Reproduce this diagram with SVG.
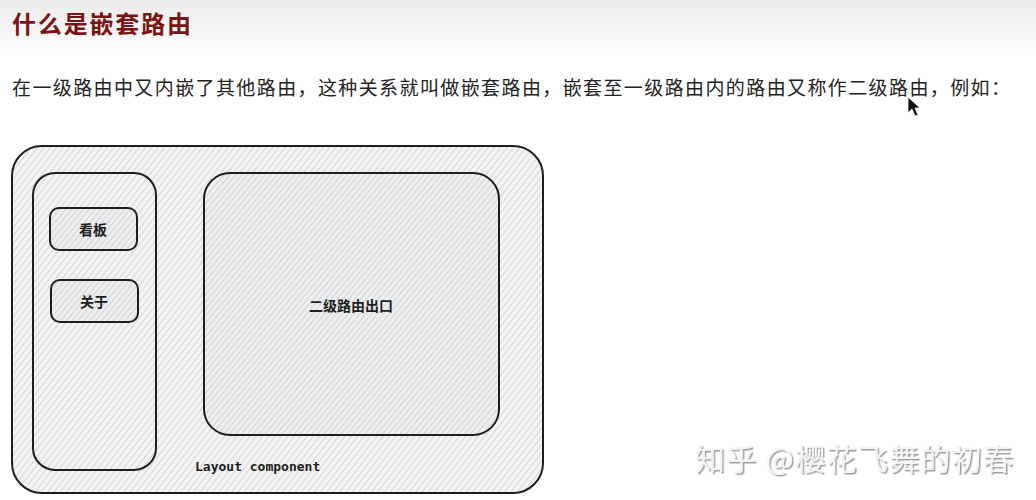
<svg xmlns="http://www.w3.org/2000/svg" width="1036" height="500" viewBox="0 0 1036 500">
<style>
.cjk{font-family:"Noto Sans CJK SC","Noto Sans",sans-serif}
.box{fill:url(#hatch);stroke:#1e1e1e;stroke-width:2}
.inner{fill:url(#hatch2);stroke:#1e1e1e;stroke-width:2}
.lbl{font-family:"Noto Sans CJK SC",sans-serif;font-size:14px;font-weight:bold;fill:#1e1e1e;text-anchor:middle;dominant-baseline:central}
</style>
<defs>
<linearGradient id="topbg" x1="0" y1="0" x2="0" y2="1">
<stop offset="0" stop-color="#ebebeb"/><stop offset="1" stop-color="#ffffff"/>
</linearGradient>
<pattern id="hatch" width="5" height="5" patternUnits="userSpaceOnUse" patternTransform="rotate(38)">
<rect width="5" height="5" fill="#f3f3f3"/>
<line x1="0" y1="0" x2="0" y2="5" stroke="#b8b8b8" stroke-width="1"/>
</pattern>
<pattern id="hatch2" width="4.5" height="4.5" patternUnits="userSpaceOnUse" patternTransform="rotate(40)">
<rect width="4.5" height="4.5" fill="#eceef0"/>
<line x1="0" y1="0" x2="0" y2="4.5" stroke="#b8babd" stroke-width="1"/>
</pattern>
<filter id="sh" x="-5%" y="-5%" width="110%" height="120%">
<feDropShadow dx="1.5" dy="1.5" stdDeviation="0.6" flood-color="#888" flood-opacity="0.8"/>
</filter>
</defs>
<rect width="1036" height="500" fill="#ffffff"/>
<rect width="1036" height="58" fill="url(#topbg)"/>
<text x="12" y="33" class="cjk" font-size="24" font-weight="bold" fill="#7a1414" textLength="179" lengthAdjust="spacing">什么是嵌套路由</text>
<text x="12" y="95" class="cjk" font-size="19" fill="#222" textLength="998" lengthAdjust="spacing">在一级路由中又内嵌了其他路由，这种关系就叫做嵌套路由，嵌套至一级路由内的路由又称作二级路由，例如：</text>
<polygon points="908,97 908,113 912,109 915,116 918,115 915,108 920,108" fill="#111" stroke="#fff" stroke-width="0.8"/>
<g id="layout">
<rect class="box" x="12" y="146" width="531" height="347" rx="30"/>
<text x="195" y="471" font-family="'DejaVu Sans Mono','Liberation Mono',monospace" font-size="13" font-weight="bold" fill="#1e1e1e">Layout component</text>
</g>
<g id="sidebar">
<rect class="box" x="33" y="173" width="123" height="297" rx="22"/>
</g>
<g id="kanban">
<rect class="inner" x="50" y="208" width="87" height="42" rx="9"/>
<text class="lbl" x="93" y="229">看板</text>
</g>
<g id="about">
<rect class="inner" x="51" y="280" width="87" height="42" rx="9"/>
<text class="lbl" x="94" y="301">关于</text>
</g>
<g id="outlet">
<rect class="inner" x="204" y="173" width="295" height="262" rx="26"/>
<text class="lbl" x="351" y="305">二级路由出口</text>
</g>
<g id="connectors"/>
<text x="695" y="470" class="cjk" font-size="30" fill="#f4f4f4" filter="url(#sh)" textLength="318" lengthAdjust="spacing">知乎 @樱花飞舞的初春</text>
</svg>
